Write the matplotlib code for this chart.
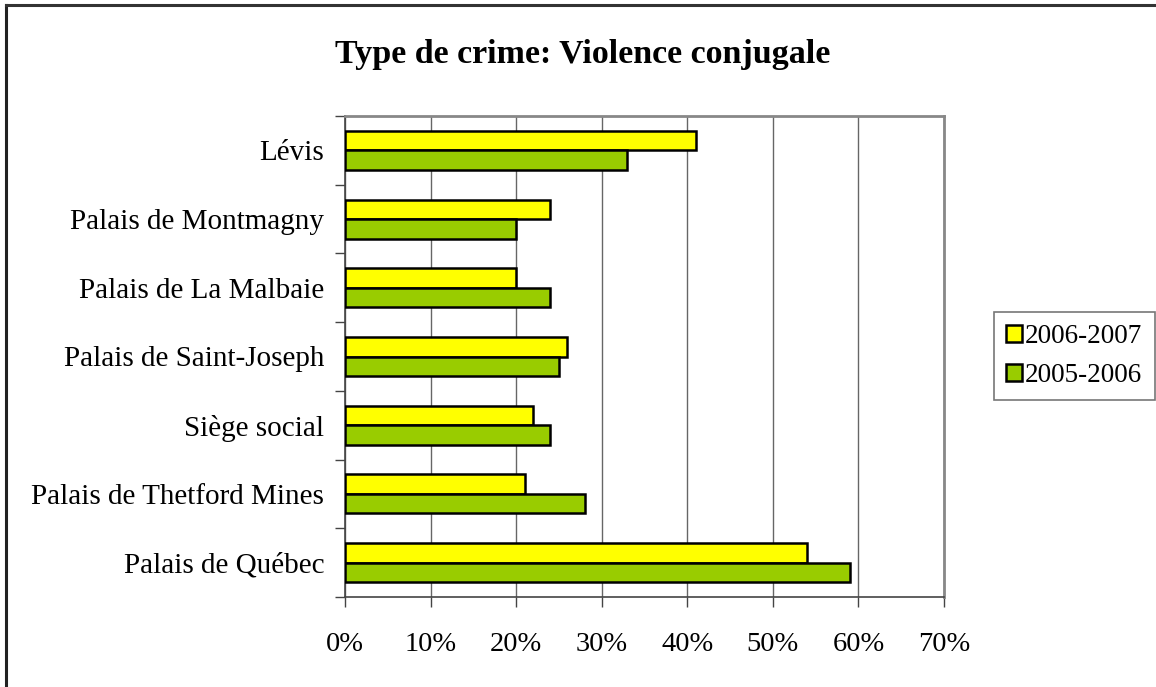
import matplotlib

matplotlib.use("Agg")
import matplotlib.pyplot as plt
import matplotlib.patches as mpatches
from matplotlib.lines import Line2D
import numpy as np

categories = [
    "Lévis",
    "Palais de Montmagny",
    "Palais de La Malbaie",
    "Palais de Saint-Joseph",
    "Siège social",
    "Palais de Thetford Mines",
    "Palais de Québec",
]
series_names = ["2006-2007", "2005-2006"]
vals_2006_2007 = [41, 24, 20, 26, 22, 21, 54]
vals_2005_2006 = [33, 20, 24, 25, 24, 28, 59]
xticks = [0, 10, 20, 30, 40, 50, 60, 70]

YELLOW = "#FFFF00"
GREEN = "#99CC00"

plt.rcParams["font.family"] = ["Liberation Serif", "DejaVu Serif"]

fig = plt.figure(figsize=(11.56, 6.87), dpi=100)
W, H = 1156, 687
ax = fig.add_axes([345 / W, 1 - 597 / H, (944 - 345) / W, (597 - 116) / H])

y = np.arange(len(categories))
bh = 0.284
ax.barh(y - bh / 2, vals_2006_2007, height=bh, color=YELLOW, edgecolor="black", linewidth=1.8, zorder=3)
ax.barh(y + bh / 2, vals_2005_2006, height=bh, color=GREEN, edgecolor="black", linewidth=1.8, zorder=3)

ax.set_xlim(0, 70)
ax.set_ylim(len(categories) - 0.5, -0.5)
ax.set_xticks(xticks)
ax.set_xticklabels([f"{v}%" for v in xticks], fontsize=20.5)
ax.set_yticks(y)
ax.set_yticklabels(categories, fontsize=21)
ax.set_yticks(np.arange(-0.5, len(categories), 1), minor=True)
ax.tick_params(axis="y", which="major", length=0, pad=15)
ax.tick_params(axis="y", which="minor", length=7, width=1, color="#444444")
ax.tick_params(axis="x", which="major", length=7, width=1, color="#444444", pad=18)

ax.grid(axis="x", color="#666666", linewidth=1, zorder=0)
for side in ["top", "right"]:
    ax.spines[side].set_color("#888888")
    ax.spines[side].set_linewidth(2)
for side in ["left", "bottom"]:
    ax.spines[side].set_color("#444444")
    ax.spines[side].set_linewidth(1.2)

fig.text(583 / W, 1 - 55 / H, "Type de crime: Violence conjugale", ha="center", va="center",
         fontsize=24.5, fontweight="bold")

handles = [
    mpatches.Patch(facecolor=YELLOW, edgecolor="black", linewidth=1.8, label=series_names[0]),
    mpatches.Patch(facecolor=GREEN, edgecolor="black", linewidth=1.8, label=series_names[1]),
]
leg = fig.legend(handles=handles, loc="center left", bbox_to_anchor=(994 / W, 1 - 356 / H),
                 fontsize=19.5, frameon=True, fancybox=False, handlelength=0.6, handleheight=0.6,
                 handletextpad=0.1, borderpad=0.45, labelspacing=0.5, borderaxespad=0)
leg.get_frame().set_edgecolor("#555555")
leg.get_frame().set_linewidth(1.2)

# outer chart border (left and top visible)
fig.add_artist(Line2D([6 / W, 6 / W], [0, 1 - 5 / H], color="#222222", linewidth=2.2))
fig.add_artist(Line2D([6 / W, 1], [1 - 5 / H, 1 - 5 / H], color="#333333", linewidth=2.2))

fig.savefig("out.png", dpi=100, facecolor="white")
